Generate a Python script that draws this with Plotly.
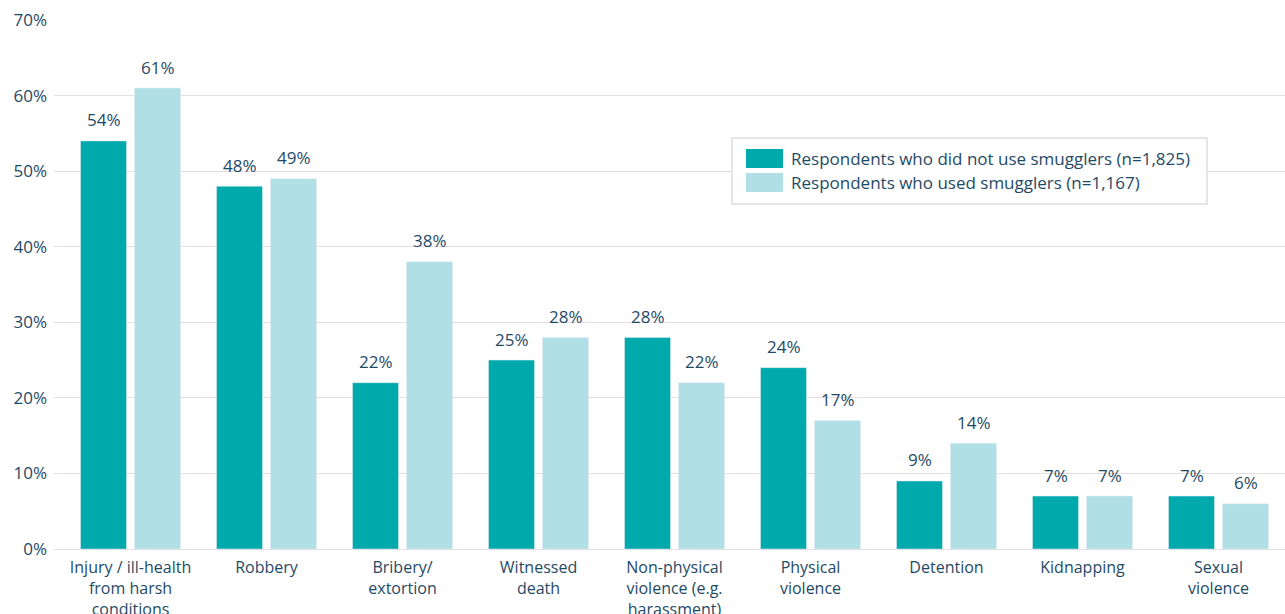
import plotly.graph_objects as go

# Data
categories = [
    "Injury / ill-health<br>from harsh<br>conditions",
    "Robbery",
    "Bribery/<br>extortion",
    "Witnessed<br>death",
    "Non-physical<br>violence (e.g.<br>harassment)",
    "Physical<br>violence",
    "Detention",
    "Kidnapping",
    "Sexual<br>violence",
]
did_not_use = [54, 48, 22, 25, 28, 24, 9, 7, 7]
used = [61, 49, 38, 28, 22, 17, 14, 7, 6]
series_names = [
    "Respondents who did not use smugglers (n=1,825)",
    "Respondents who used smugglers (n=1,167)",
]
y_ticks = [0, 10, 20, 30, 40, 50, 60, 70]

DARK = "#00a9ac"
LIGHT = "#b0dfe5"
TEXT = "#1f4a66"
GRID = "#e5dde2"
FONT = "'Open Sans', Lato, sans-serif"
FS = 17

W, H = 1285, 614
ML, MR, MT, MB = 54, 0, 20, 65

fig = go.Figure()
for vals, color, name, shift in [(did_not_use, DARK, series_names[0], -27),
                                 (used, LIGHT, series_names[1], 27)]:
    fig.add_trace(go.Bar(
        x=categories, y=vals, name=name, marker_color=color,
        showlegend=False, hoverinfo="x+y",
    ))
    # value labels above each bar
    for c, v in zip(categories, vals):
        fig.add_annotation(x=c, y=v, xref="x", yref="y", text=f"{v}%",
                           showarrow=False, xshift=shift, yshift=21,
                           xanchor="center", yanchor="middle",
                           font=dict(size=FS, color=TEXT, family=FONT))

fig.update_layout(
    width=W, height=H,
    margin=dict(l=ML, r=MR, t=MT, b=MB),
    plot_bgcolor="white", paper_bgcolor="white",
    barmode="group", bargap=0.206, bargroupgap=0.148,
    font=dict(family=FONT, size=FS, color=TEXT),
    xaxis=dict(
        range=[-0.5625, 8.489], showgrid=False, ticks="", tickangle=0,
        showline=True, linecolor=GRID, linewidth=1, automargin=False,
        tickfont=dict(size=16, color=TEXT), ticklabelstandoff=4,
    ),
    yaxis=dict(
        range=[0, 70], tickmode="array", tickvals=y_ticks,
        ticktext=[f"{t}%" for t in y_ticks], automargin=False,
        showgrid=True, gridcolor=GRID, gridwidth=1, zeroline=False,
        tickfont=dict(size=FS, color=TEXT), ticks="", ticklen=0,
        ticklabelstandoff=6,
    ),
)

# Legend box with wide swatches (pixel coordinates -> paper)
pw, ph = W - ML - MR, H - MT - MB

def px(x):
    return (x - ML) / pw

def py(y):
    return (H - MB - y) / ph

shapes = [
    dict(type="rect", xref="paper", yref="paper",
         x0=px(732), x1=px(1207), y0=py(204), y1=py(138),
         line=dict(color="#e0dade", width=1.5), fillcolor="white", layer="above"),
]
for i, (color, name) in enumerate([(DARK, series_names[0]), (LIGHT, series_names[1])]):
    top = 149 + i * 24
    shapes.append(dict(type="rect", xref="paper", yref="paper",
                       x0=px(746), x1=px(783), y0=py(top + 19), y1=py(top),
                       line=dict(width=0), fillcolor=color, layer="above"))
    fig.add_annotation(xref="paper", yref="paper", x=px(789), y=py(top + 9.5),
                       text=name, showarrow=False, xanchor="left", yanchor="middle",
                       font=dict(size=FS, color=TEXT, family=FONT))
fig.update_layout(shapes=shapes)

fig.write_html("out.html")
